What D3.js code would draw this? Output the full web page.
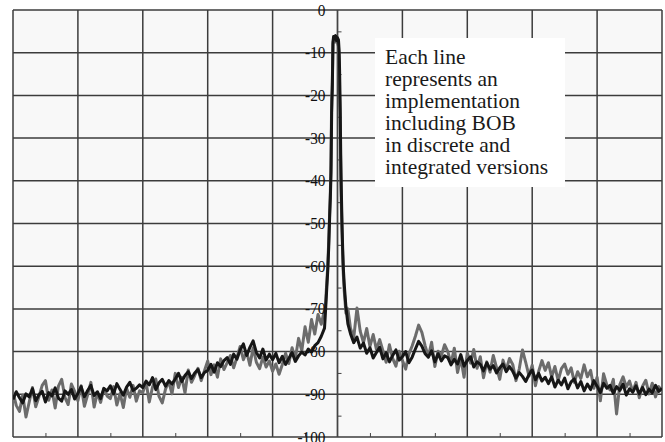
<!DOCTYPE html>
<html>
<head>
<meta charset="utf-8">
<script src="https://cdn.jsdelivr.net/npm/d3@7"></script>
<style>
  body { margin: 0; background: #fff; }
  svg { display: block; }
  text { font-family: 'Liberation Serif', 'DejaVu Serif', serif; }
</style>
</head>
<body>
<div id="graph"></div>
<script>
'use strict';

// y axis ticks (dB) and note text
const Y_TICKS = [0, -10, -20, -30, -40, -50, -60, -70, -80, -90, -100];
const NOTE_LINES = ['Each line', 'represents an', 'implementation',
  'including BOB', 'in discrete and', 'integrated versions'];

// noise floor left of carrier, sampled every 0.5 from -50 to -2
const leftBlack = [
  -91.2, -89.4, -90.8, -92.0, -89.9, -90.6, -88.7, -91.5, -90.1, -89.3,
  -91.8, -89.6, -90.4, -88.5, -90.9, -91.6, -89.2, -90.0, -88.9, -91.1,
  -89.8, -88.2, -90.6, -89.1, -87.9, -90.3, -89.4, -91.0, -88.6, -89.2,
  -88.0, -89.9, -87.5, -88.9, -90.2, -88.3, -87.2, -89.1, -88.6, -87.8,
  -88.4, -86.9, -87.8, -86.1, -88.9, -87.3, -86.5, -88.1, -86.8, -87.6,
  -86.4, -85.1, -87.0, -85.6, -84.7, -86.3, -85.0, -84.2, -86.1, -84.9,
  -84.4, -83.0, -84.8, -82.6, -83.5, -82.1, -81.4, -83.0, -80.6, -81.8,
  -79.6, -78.2, -80.9, -79.0, -77.5, -80.2, -81.5, -79.4, -82.0, -80.6,
  -81.9, -80.4, -82.6, -81.1, -83.0, -81.6, -80.2, -82.3, -81.0, -80.1,
  -80.8, -79.4, -80.1, -78.6, -77.9, -76.4, -74.5
];
const leftGray = [
  -89.5, -92.6, -94.0, -90.2, -95.3, -91.8, -88.4, -92.9, -90.5, -87.9,
  -86.8, -91.4, -89.0, -93.2, -88.1, -86.5, -90.7, -92.4, -87.6, -89.3,
  -91.5, -88.0, -92.8, -90.1, -87.2, -93.0, -89.6, -91.9, -88.7, -90.4,
  -91.0, -88.2, -92.5, -89.8, -93.1, -88.6, -90.7, -87.9, -91.6, -89.2,
  -89.6, -87.1, -91.8, -88.3, -86.4, -90.5, -92.0, -88.8, -87.0, -89.9,
  -85.1, -88.4, -86.0, -89.7, -84.3, -87.2, -85.6, -83.9, -86.8, -84.5,
  -82.2, -85.4, -83.1, -86.0, -81.7, -84.2, -82.6, -80.9, -83.8, -81.4,
  -78.8, -81.9, -80.0, -83.2, -79.1, -82.5, -84.0, -81.3, -83.6, -82.2,
  -84.6, -82.9, -85.3, -83.0, -80.4, -82.8, -79.1, -81.7, -76.9, -79.8,
  -74.2, -77.8, -72.5, -75.9, -71.3, -73.6, -70.2
];

// carrier peak
const peakX = [-1.9, -1.7, -1.5, -1.35, -1.2, -1.1, -1.0, -0.9, -0.8, -0.7,
  -0.6, -0.45, -0.3, -0.15, 0.0, 0.15, 0.25, 0.32, 0.4, 0.5,
  0.6, 0.7, 0.8, 0.9, 1.05, 1.3, 1.6];
const peakBlack = [-72.0, -66.5, -61.0, -55.5, -48.0, -44.0, -38.0, -24.0, -18.5, -7.5,
  -6.2, -6.8, -6.0, -7.2, -6.5, -7.0, -9.5, -14.0, -21.0, -34.0,
  -43.0, -50.5, -56.0, -60.5, -64.5, -69.5, -73.5];
const peakGray = [-70.5, -65.0, -60.0, -54.0, -47.0, -42.5, -36.0, -21.0, -17.0, -8.0,
  -7.0, -6.4, -7.5, -6.8, -7.8, -8.5, -12.0, -20.5, -24.0, -39.0,
  -46.0, -52.0, -57.5, -62.0, -66.0, -71.0, -70.0];

// noise floor right of carrier, sampled every 0.5 from 2 to 50
const rightBlack = [
  -75.8, -77.9, -76.6, -79.2, -78.0, -80.4, -79.1, -81.5, -80.2, -79.0,
  -81.7, -80.3, -82.4, -80.9, -79.6, -82.0, -81.2, -80.0, -82.6, -81.3,
  -79.4, -77.6, -78.7, -80.5, -81.3, -79.8, -82.4, -80.5, -82.2, -81.0,
  -81.4, -83.1, -81.8, -82.9, -80.7, -83.4, -82.1, -81.2, -83.6, -82.4,
  -83.0, -84.5, -82.6, -84.1, -83.3, -85.0, -83.8, -82.9, -84.7, -83.5,
  -84.6, -86.2, -84.9, -85.8, -87.0, -85.4, -84.3, -86.6, -85.1, -86.9,
  -86.0, -87.5, -85.9, -88.3, -86.7, -87.8, -86.2, -88.7, -87.1, -86.4,
  -88.5, -87.0, -89.2, -87.6, -88.9, -86.8, -88.1, -89.6, -87.4, -88.6,
  -87.9, -89.8, -88.2, -89.1, -87.6, -90.2, -88.7, -89.5, -88.0, -89.9,
  -88.4, -90.1, -88.8, -89.6, -87.9, -89.3, -88.6
];
const rightGray = [
  -74.5, -76.8, -69.8, -75.2, -77.9, -74.6, -78.8, -76.0, -79.5, -77.2,
  -79.8, -82.5, -78.4, -81.6, -83.4, -79.9, -82.0, -84.1, -80.6, -78.7,
  -76.4, -73.8, -75.5, -78.6, -81.2, -77.8, -83.5, -79.9, -81.0, -78.4,
  -80.0, -82.8, -79.2, -84.9, -81.5, -86.0, -80.3, -82.7, -79.5, -83.9,
  -81.2, -86.1, -82.4, -84.8, -80.9, -83.7, -86.5, -82.0, -84.3, -81.6,
  -83.0, -86.8, -84.1, -79.6, -82.5, -85.7, -83.2, -88.0, -84.6, -82.1,
  -84.4, -82.6, -85.9, -83.5, -86.8, -84.0, -82.9, -85.3, -83.8, -87.2,
  -84.7, -86.3, -83.1, -85.9, -84.4, -88.6, -86.0, -91.5, -85.2, -87.8,
  -89.0, -86.5, -94.6, -87.7, -85.9, -88.3, -86.9, -89.4, -87.2, -90.8,
  -88.1, -86.7, -89.9, -87.4, -90.6, -88.2, -89.3
];

const W = 665, H = 442;
let svgContainer;

function buildSeries(left, peak, right) {
  const leftX = d3.range(0, left.length).map(i => -50 + i * 0.5);
  const rightX = d3.range(0, right.length).map(i => 2 + i * 0.5);
  const xs = leftX.concat(peakX, rightX);
  const ys = left.concat(peak, right);
  return xs.map((x, i) => ({ x: x, y: ys[i] }));
}

function drawAxes() {
  const xScale = d3.scaleLinear().domain([-50, 50]).range([13, 662]);
  const yScale = d3.scaleLinear().domain([0, -100]).range([10, 437]);

  svgContainer.append('rect')
    .attr('x', xScale(-50)).attr('y', yScale(0))
    .attr('width', xScale(50) - xScale(-50))
    .attr('height', yScale(-100) - yScale(0))
    .attr('fill', '#f8f8f8');

  // grid
  const grid = svgContainer.append('g').attr('stroke', '#3c3c3c').attr('stroke-width', 1.5);
  grid.selectAll('.hgrid')
    .data(Y_TICKS)
    .enter().append('line')
    .attr('x1', xScale(-50)).attr('x2', xScale(50))
    .attr('y1', d => yScale(d)).attr('y2', d => yScale(d));
  grid.selectAll('.vgrid')
    .data(d3.range(-50, 51, 10))
    .enter().append('line')
    .attr('x1', d => xScale(d)).attr('x2', d => xScale(d))
    .attr('y1', yScale(0)).attr('y2', yScale(-100));

  // minor ticks along bottom edge
  svgContainer.append('g')
    .attr('transform', `translate(0, ${yScale(-100)})`)
    .call(d3.axisTop(xScale).tickValues(d3.range(-45, 50, 10)).tickSize(4).tickFormat(''))
    .call(g => g.select('.domain').remove())
    .call(g => g.selectAll('line').attr('stroke', '#444'));

  // centre axis with minor ticks
  svgContainer.append('g')
    .attr('transform', `translate(${xScale(0)}, 0)`)
    .call(d3.axisRight(yScale).tickValues(d3.range(-5, -100, -10)).tickSize(4).tickFormat(''))
    .call(g => g.select('.domain').remove())
    .call(g => g.selectAll('line').attr('stroke', '#444'));
  svgContainer.append('line')
    .attr('x1', xScale(0)).attr('x2', xScale(0))
    .attr('y1', yScale(0)).attr('y2', yScale(-100))
    .attr('stroke', '#444').attr('stroke-width', 1.3);

  return { x: xScale, y: yScale };
}

function plotData(map) {
  svgContainer.append('clipPath').attr('id', 'clip')
    .append('rect')
    .attr('x', map.x(-50)).attr('y', map.y(0))
    .attr('width', map.x(50) - map.x(-50))
    .attr('height', map.y(-100) - map.y(0));

  const line = d3.line().x(d => map.x(d.x)).y(d => map.y(d.y));
  const series = [
    { pts: buildSeries(leftGray, peakGray, rightGray), color: '#6c6c6c' },
    { pts: buildSeries(leftBlack, peakBlack, rightBlack), color: '#161616' },
  ];

  svgContainer.append('g').attr('clip-path', 'url(#clip)')
    .selectAll('path')
    .data(series)
    .enter().append('path')
    .attr('d', s => line(s.pts))
    .attr('fill', 'none')
    .attr('stroke', s => s.color)
    .attr('stroke-width', 3)
    .attr('stroke-linejoin', 'round');
}

function makeLabels(map) {
  svgContainer.append('g')
    .selectAll('text')
    .data(Y_TICKS)
    .enter().append('text')
    .attr('transform', d => `translate(${map.x(0) - 12}, ${map.y(d) + 5.5}) scale(0.9, 1)`)
    .attr('text-anchor', 'end')
    .style('font-size', '17px')
    .attr('fill', '#111')
    .text(d => d);

  svgContainer.append('rect')
    .attr('x', 375).attr('y', 38)
    .attr('width', 190).attr('height', 149)
    .attr('fill', '#fff');

  svgContainer.append('g')
    .selectAll('text')
    .data(NOTE_LINES)
    .enter().append('text')
    .attr('x', 385)
    .attr('y', (d, i) => 64 + i * 22)
    .style('font-size', '21.5px')
    .attr('fill', '#1a1a1a')
    .text(d => d);
}

function visualize() {
  svgContainer = d3.select('#graph')
    .append('svg')
    .attr('width', W)
    .attr('height', H);
  const map = drawAxes();
  plotData(map);
  makeLabels(map);
}

visualize();
</script>
</body>
</html>
